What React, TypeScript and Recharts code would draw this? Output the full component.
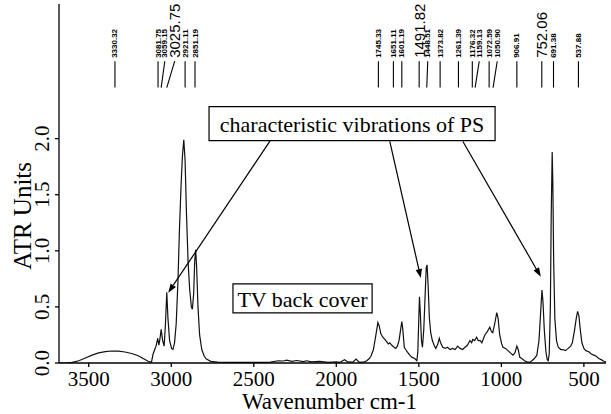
import {
  LineChart,
  Line,
  XAxis,
  YAxis,
  Label,
  ReferenceLine,
  ReferenceDot,
  ReferenceArea,
} from "recharts";

// spectrum (wavenumber cm-1 / ATR units)
const wavenumbers = [
  3680, 3640, 3600, 3560, 3520, 3480, 3440, 3400, 3360, 3320, 3280, 3240, 3200, 3170, 3140, 3120,
  3110, 3100, 3092, 3082, 3075, 3068, 3061, 3052, 3043, 3035, 3027, 3020, 3010, 2998, 2990, 2980,
  2970, 2960, 2950, 2940, 2932, 2924, 2916, 2908, 2898, 2888, 2878, 2872, 2864, 2858, 2852, 2846,
  2838, 2828, 2815, 2800, 2787, 2760, 2720, 2600, 2450, 2400, 2350, 2320, 2300, 2270, 2240, 2200,
  2180, 2150, 2100, 2050, 2000, 1980, 1950, 1930, 1900, 1880, 1860, 1830, 1815, 1800, 1790, 1775,
  1760, 1748, 1740, 1730, 1718, 1706, 1695, 1685, 1676, 1665, 1650, 1640, 1630, 1620, 1610, 1603,
  1597, 1588, 1580, 1570, 1555, 1540, 1525, 1512, 1506, 1500, 1496, 1491, 1484, 1478, 1470, 1462,
  1455, 1450, 1444, 1436, 1428, 1418, 1405, 1397, 1385, 1376, 1368, 1355, 1340, 1328, 1310, 1295,
  1280, 1265, 1250, 1235, 1220, 1205, 1190, 1180, 1173, 1162, 1150, 1140, 1128, 1118, 1100, 1085,
  1070, 1060, 1052, 1040, 1028, 1020, 1010, 998, 990, 975, 960, 945, 930, 918, 906, 898,
  888, 876, 860, 845, 830, 815, 800, 785, 772, 762, 754, 748, 740, 730, 722, 716,
  710, 703, 698, 692, 688, 683, 676, 666, 655, 640, 627, 612, 595, 580, 570, 558,
  546, 538, 530, 522, 512, 500, 488, 470, 455, 440, 425, 410, 395, 380, 366,
];
const absorbance = [
  0.0, 0.0, 0.005, 0.02, 0.045, 0.07, 0.09, 0.102, 0.107, 0.105, 0.098, 0.085, 0.065, 0.04, 0.015, 0.005,
  0.08, 0.12, 0.15, 0.22, 0.16, 0.22, 0.3, 0.2, 0.15, 0.35, 0.63, 0.4, 0.2, 0.13, 0.12, 0.18,
  0.35, 0.7, 1.2, 1.6, 1.85, 1.99, 1.8, 1.35, 0.9, 0.65, 0.5, 0.48, 0.62, 0.9, 1.01, 0.85,
  0.5, 0.25, 0.12, 0.06, 0.035, 0.015, 0.008, 0.005, 0.005, 0.008, 0.02, 0.018, 0.025, 0.015, 0.022, 0.012,
  0.02, 0.01, 0.015, 0.005, 0.01, 0.005, 0.03, 0.01, 0.008, 0.035, 0.005, 0.01, 0.02, 0.04, 0.06, 0.12,
  0.25, 0.36, 0.33, 0.26, 0.23, 0.21, 0.19, 0.17, 0.18, 0.16, 0.14, 0.13, 0.15, 0.2, 0.3, 0.37,
  0.3, 0.14, 0.12, 0.1, 0.07, 0.05, 0.04, 0.02, 0.1, 0.4, 0.59, 0.45, 0.2, 0.14, 0.3, 0.6,
  0.85, 0.875, 0.7, 0.4, 0.27, 0.2, 0.15, 0.13, 0.17, 0.22, 0.18, 0.14, 0.13, 0.14, 0.12, 0.13,
  0.12, 0.15, 0.13, 0.12, 0.14, 0.16, 0.2, 0.18, 0.21, 0.2, 0.23, 0.2, 0.2, 0.18, 0.25, 0.28,
  0.32, 0.28, 0.27, 0.35, 0.45, 0.4, 0.25, 0.17, 0.14, 0.13, 0.11, 0.09, 0.07, 0.09, 0.15, 0.12,
  0.05, 0.04, 0.02, 0.01, 0.005, 0.02, 0.04, 0.07, 0.2, 0.45, 0.65, 0.55, 0.3, 0.1, 0.03, 0.02,
  0.08, 0.5, 1.3, 1.88, 1.6, 0.9, 0.4, 0.2, 0.14, 0.12, 0.12, 0.11, 0.13, 0.15, 0.18, 0.28,
  0.4, 0.46, 0.42, 0.3, 0.18, 0.13, 0.11, 0.1, 0.08, 0.07, 0.06, 0.04, 0.03, 0.015, 0.01,
];

const xTicks = [3500, 3000, 2500, 2000, 1500, 1000, 500];
const yTicks = [0, 0.5, 1, 1.5, 2];

// peak-pick labels along the top; line foot at peakAt, label at labelAt
const peakLabels = [
  "3330.32", "3081.75", "3059.15", "3025.75", "2921.11", "2851.19",
  "1745.33", "1651.11", "1601.19", "1491.82", "1448.51", "1373.82", "1261.39",
  "1176.32", "1159.13", "1072.59", "1050.90", "906.91", "752.06", "691.38", "537.88",
];
const peakAt = [
  3341, 3080, 3061, 3027, 2916, 2856, 1745, 1654, 1603, 1498, 1452, 1371, 1260,
  1176, 1159, 1074, 1050, 906, 755, 684, 533,
];
const labelAt = [
  3341, 3080, 3039, 2979, 2916, 2856, 1745, 1654, 1603, 1498, 1446, 1371, 1260,
  1176, 1134, 1074, 1025, 906, 755, 684, 533,
];
const bigLabels = ["3025.75", "1491.82", "752.06"];

const calloutText = "characteristic vibrations of PS";
const sampleText = "TV back cover";
const arrowFrom = [
  { nu: 2401, a: 1.98 },
  { nu: 1676, a: 1.975 },
  { nu: 1233, a: 1.975 },
];
const arrowTo = [
  { nu: 3018, a: 0.627 },
  { nu: 1488, a: 0.758 },
  { nu: 761, a: 0.769 },
];

const data = wavenumbers.map((w, i) => ({ w, a: absorbance[i] }));

const SERIF = "Liberation Serif, Times New Roman, serif";
const SANS = "Liberation Sans, Arial, sans-serif";

function XTick(props: any) {
  const { x, y, payload } = props;
  return (
    <text x={x} y={y} dy="0.75em" textAnchor="middle" fontFamily={SERIF} fontSize={21} fill="#000">
      {payload.value}
    </text>
  );
}

function YTick(props: any) {
  const { y, payload } = props;
  const cx = 42;
  return (
    <text
      x={cx}
      y={y}
      transform={`rotate(-90 ${cx} ${y})`}
      textAnchor="middle"
      dominantBaseline="central"
      fontFamily={SERIF}
      fontSize={21}
      fill="#000"
    >
      {Number(payload.value).toFixed(1)}
    </text>
  );
}

function YLabel(props: any) {
  const { viewBox } = props;
  const cx = viewBox.x + 23;
  const cy = viewBox.y + viewBox.height * 0.59;
  return (
    <text
      x={cx}
      y={cy}
      transform={`rotate(-90 ${cx} ${cy})`}
      textAnchor="middle"
      dominantBaseline="central"
      fontFamily={SERIF}
      fontSize={25}
      fill="#000"
    >
      ATR Units
    </text>
  );
}

function XLabel(props: any) {
  const { viewBox } = props;
  const cx = viewBox.x + viewBox.width / 2 - 3;
  const by = viewBox.y + viewBox.height - 5;
  return (
    <text x={cx} y={by} textAnchor="middle" fontFamily={SERIF} fontSize={23} fill="#000">
      Wavenumber cm-1
    </text>
  );
}

function BoxText(props: any) {
  const { viewBox, value } = props;
  return (
    <text
      x={viewBox.x + viewBox.width / 2}
      y={viewBox.y + viewBox.height / 2 + 1}
      textAnchor="middle"
      dominantBaseline="central"
      fontFamily={SERIF}
      fontSize={22}
      fill="#000"
    >
      {value}
    </text>
  );
}

function Arrow(props: any) {
  const { x1, y1, x2, y2 } = props;
  const dx = x2 - x1;
  const dy = y2 - y1;
  const len = Math.sqrt(dx * dx + dy * dy) || 1;
  const ux = dx / len;
  const uy = dy / len;
  const hl = 9;
  const hw = 3.2;
  const bx = x2 - ux * hl;
  const by = y2 - uy * hl;
  const pts = `${x2},${y2} ${bx - uy * hw},${by + ux * hw} ${bx + uy * hw},${by - ux * hw}`;
  return (
    <g>
      <line x1={x1} y1={y1} x2={bx} y2={by} stroke="#000" strokeWidth={1.2} />
      <polygon points={pts} fill="#000" />
    </g>
  );
}

export default function App() {
  return (
    <div style={{ position: "absolute", left: 0, top: 0, background: "#fff", fontFamily: SERIF }}>
      <LineChart
        width={611}
        height={414}
        data={data}
        margin={{ top: 4, right: 5, bottom: 0, left: 0 }}
      >
        <XAxis
          dataKey="w"
          type="number"
          domain={[366, 3680]}
          reversed
          allowDataOverflow
          ticks={xTicks}
          height={51}
          tickSize={4}
          tickMargin={3}
          stroke="#000"
          strokeWidth={1.3}
          tick={<XTick />}
        >
          <Label content={<XLabel />} />
        </XAxis>
        <XAxis
          xAxisId="top"
          orientation="top"
          type="number"
          domain={[366, 3680]}
          reversed
          height={0}
          tick={false}
          tickLine={false}
          stroke="#000"
          strokeWidth={1.3}
        />
        <YAxis
          type="number"
          domain={[0, 3.2]}
          allowDataOverflow
          ticks={yTicks}
          width={59}
          tickSize={4}
          stroke="#000"
          strokeWidth={1.3}
          tick={<YTick />}
        >
          <Label content={<YLabel />} />
        </YAxis>
        <YAxis
          yAxisId="right"
          orientation="right"
          domain={[0, 3.2]}
          width={0}
          tick={false}
          tickLine={false}
          stroke="#000"
          strokeWidth={1.3}
        />

        <Line
          dataKey="a"
          type="linear"
          stroke="#111"
          strokeWidth={1.2}
          dot={false}
          isAnimationActive={false}
        />

        {peakLabels.map((lab, i) => (
          <ReferenceLine
            key={`pl-${lab}`}
            segment={[
              { x: peakAt[i], y: 2.455 },
              { x: labelAt[i], y: 2.69 },
            ]}
            stroke="#000"
            strokeWidth={1.1}
          />
        ))}
        {peakLabels.map((lab, i) => {
          const big = bigLabels.includes(lab);
          return (
            <ReferenceDot
              key={`pt-${lab}`}
              x={labelAt[i]}
              y={2.72}
              r={0}
              shape={(p: any) => (
                <text
                  x={p.cx}
                  y={p.cy}
                  transform={`rotate(-90 ${p.cx} ${p.cy})`}
                  textAnchor="start"
                  dominantBaseline="central"
                  fontFamily={SANS}
                  fontSize={big ? 15 : 8}
                  fontWeight={big ? 400 : 700}
                  fill="#000"
                >
                  {lab}
                </text>
              )}
            />
          );
        })}

        <ReferenceArea
          x1={2771}
          x2={1038}
          y1={1.982}
          y2={2.286}
          fill="#fff"
          fillOpacity={1}
          stroke="#000"
          strokeWidth={1.2}
        >
          <Label value={calloutText} content={<BoxText />} />
        </ReferenceArea>
        <ReferenceArea
          x1={2626}
          x2={1783}
          y1={0.446}
          y2={0.705}
          fill="#fff"
          fillOpacity={1}
          stroke="#000"
          strokeWidth={1.2}
        >
          <Label value={sampleText} content={<BoxText />} />
        </ReferenceArea>
        {arrowFrom.map((f, i) => (
          <ReferenceLine
            key={`ar-${i}`}
            segment={[
              { x: f.nu, y: f.a },
              { x: arrowTo[i].nu, y: arrowTo[i].a },
            ]}
            stroke="#000"
            shape={<Arrow />}
          />
        ))}
      </LineChart>
    </div>
  );
}
